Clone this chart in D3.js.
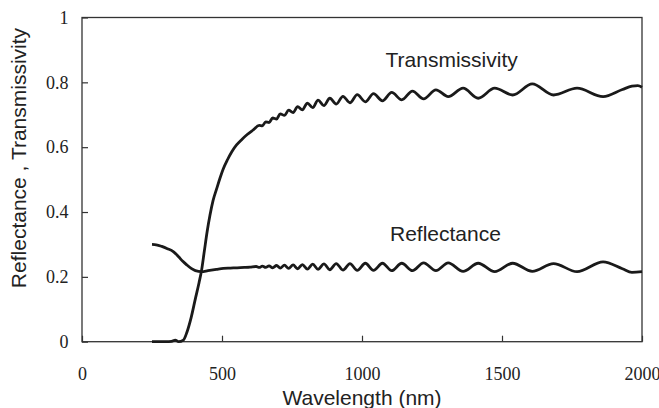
<!DOCTYPE html>
<html>
<head>
<meta charset="utf-8">
<script src="https://cdn.jsdelivr.net/npm/d3@7"></script>
<style>
  body { margin: 0; background: #fff; }
  svg { display: block; }
</style>
</head>
<body>
<div id="chart"></div>
<script>
// margin setting
const width = 659;
const height = 408;
const margin = {top: 17.5, right: 17, bottom: 66.3, left: 82};

const chart_width = width - margin.left - margin.right;
const chart_height = height - margin.top - margin.bottom;

// data (wavelength in nm)
const tWavelength = [250, 300, 320, 333, 345, 362, 375, 390, 405, 418, 427, 437, 447, 457, 468, 481, 493, 504, 520, 535,
  552, 571, 590, 611, 633, 644, 656, 668, 681, 695, 708, 723, 738, 754, 770, 787,
  805, 824, 843, 864, 885, 908, 932, 957, 983, 1012, 1041, 1073, 1106, 1142, 1180, 1220, 1264, 1308,
  1361, 1415, 1474, 1538, 1608, 1684, 1768, 1861, 1930, 1964, 1985, 2000];
const transmissivity = [0, 0, 0.001, 0.005, 0, 0.005, 0.03, 0.075, 0.133, 0.182, 0.22, 0.28, 0.34, 0.39, 0.435, 0.472, 0.505, 0.532, 0.562, 0.586,
  0.607, 0.624, 0.639, 0.653, 0.667, 0.666, 0.678, 0.676, 0.690, 0.687, 0.703, 0.698, 0.714, 0.707, 0.725, 0.715,
  0.736, 0.722, 0.745, 0.728, 0.751, 0.733, 0.757, 0.737, 0.762, 0.740, 0.765, 0.743, 0.769, 0.746, 0.773, 0.749, 0.777, 0.756,
  0.782, 0.751, 0.782, 0.761, 0.795, 0.761, 0.782, 0.756, 0.778, 0.788, 0.790, 0.785];

const rWavelength = [250, 265, 285, 305, 326, 345, 360, 374, 390, 405, 427, 450, 480, 505, 530,
  554, 580, 600, 622, 633, 644, 656, 668, 681, 695, 708, 723, 738, 754, 770, 787,
  805, 824, 843, 864, 885, 908, 932, 957, 983, 1012, 1041, 1073, 1106, 1142, 1180, 1220, 1264, 1308,
  1361, 1415, 1474, 1538, 1608, 1684, 1768, 1861, 1930, 1964, 2000];
const reflectance = [0.300, 0.299, 0.294, 0.287, 0.278, 0.262, 0.248, 0.237, 0.226, 0.219, 0.216, 0.219, 0.223, 0.226, 0.227,
  0.228, 0.229, 0.230, 0.232, 0.229, 0.233, 0.229, 0.234, 0.228, 0.235, 0.227, 0.236, 0.226, 0.237, 0.225, 0.238,
  0.224, 0.239, 0.223, 0.240, 0.222, 0.241, 0.221, 0.241, 0.220, 0.242, 0.220, 0.242, 0.219, 0.242, 0.219, 0.243, 0.219, 0.243,
  0.217, 0.242, 0.216, 0.242, 0.217, 0.241, 0.216, 0.246, 0.225, 0.214, 0.216];

const xTicks = [0, 500, 1000, 1500, 2000];
const yTicks = [0, 0.2, 0.4, 0.6, 0.8, 1];
const yTickLabels = ["0", "0.2", "0.4", "0.6", "0.8", "1"];

const curveLabels = ["Transmissivity", "Reflectance"];
const xTitle = "Wavelength (nm)";
const yTitle = "Reflectance , Transmissivity";

// scales
var x_scale = d3.scaleLinear()
    .domain([0, 2000])
    .range([0, chart_width]);

var y_scale = d3.scaleLinear()
    .domain([0, 1])
    .range([chart_height, 0]);

var svg = d3.select("#chart")
    .append("svg")
    .attr("width", width)
    .attr("height", height)
    .append("g")
    .attr("transform", `translate(${margin.left}, ${margin.top})`);

// frame
svg.append("rect")
    .attr("x", 0)
    .attr("y", 0)
    .attr("width", chart_width)
    .attr("height", chart_height)
    .attr("fill", "none")
    .attr("stroke", "#333")
    .attr("stroke-width", 1.3);

// axes, ticks pointing inward
var x_axis = d3.axisBottom(x_scale)
    .tickValues(xTicks)
    .tickFormat(d3.format("d"))
    .tickSizeInner(-6)
    .tickSizeOuter(0)
    .tickPadding(25.5);

var y_axis = d3.axisLeft(y_scale)
    .tickValues(yTicks)
    .tickFormat((d, i) => yTickLabels[i])
    .tickSizeInner(-6)
    .tickSizeOuter(0)
    .tickPadding(13.5);

var gx = svg.append("g")
    .attr("class", "x axis")
    .attr("transform", `translate(0, ${chart_height})`)
    .call(x_axis);

var gy = svg.append("g")
    .attr("class", "y axis")
    .call(y_axis);

[gx, gy].forEach(g => {
  g.attr("font-family", "'Liberation Serif', 'Times New Roman', serif").attr("font-size", 18);
  g.select(".domain").remove();
  g.selectAll(".tick line").attr("stroke", "#333").attr("stroke-width", 1.2);
  g.selectAll(".tick text").attr("fill", "#222");
});

// curves
var line = d3.line()
    .x(d => x_scale(d[0]))
    .y(d => y_scale(d[1]))
    .curve(d3.curveMonotoneX);

var series = [
  d3.zip(tWavelength, transmissivity),
  d3.zip(rWavelength, reflectance)
];

svg.selectAll(".curve")
    .data(series)
    .enter()
    .append("path")
    .attr("class", "curve")
    .attr("d", line)
    .attr("fill", "none")
    .attr("stroke", "#1a1a1a")
    .attr("stroke-width", 2.8)
    .attr("stroke-linejoin", "round");

// curve labels
const sans = "'Liberation Sans', Arial, sans-serif";
svg.selectAll(".clabel")
    .data(curveLabels)
    .enter()
    .append("text")
    .attr("class", "clabel")
    .attr("x", (d, i) => i === 0 ? 385.5 - margin.left : 390 - margin.left)
    .attr("y", (d, i) => i === 0 ? 67 - margin.top : 241 - margin.top)
    .attr("fill", "#222")
    .style("font-family", sans)
    .style("font-size", "21px")
    .text(d => d);

// axis titles
svg.append("text")
    .attr("x", chart_width / 2)
    .attr("y", 405 - margin.top)
    .attr("text-anchor", "middle")
    .attr("fill", "#222")
    .style("font-family", sans)
    .style("font-size", "21px")
    .text(xTitle);

svg.append("text")
    .attr("transform", `translate(${26 - margin.left}, ${158 - margin.top}) rotate(-90)`)
    .attr("text-anchor", "middle")
    .attr("fill", "#222")
    .style("font-family", sans)
    .style("font-size", "21px")
    .text(yTitle);
</script>
</body>
</html>
